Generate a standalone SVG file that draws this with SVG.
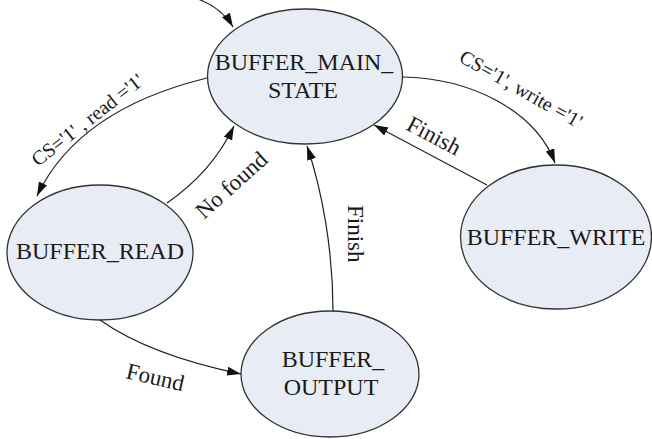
<svg xmlns="http://www.w3.org/2000/svg" width="652" height="439" viewBox="0 0 652 439">
<style>
.node{fill:#e8ecf5;stroke:#333;stroke-width:1.3}
.nt{font-family:"Liberation Serif","Times New Roman",serif;font-size:24px;fill:#1a1a1a;text-anchor:middle}
.edge{fill:none;stroke:#222;stroke-width:1.2}
.lbl{font-family:"Liberation Serif","Times New Roman",serif;font-size:23px;fill:#1a1a1a}
.cs{font-size:20px}
</style>
<defs>
<marker id="arr" markerUnits="userSpaceOnUse" markerWidth="15" markerHeight="10" refX="14" refY="4.5" orient="auto">
<path d="M0,0 L14,4.5 L0,9 z" fill="#111"/>
</marker>
</defs>
<rect width="652" height="439" fill="#fff"/>
<g id="node-main">
<ellipse class="node" cx="305" cy="76.5" rx="97.5" ry="67.5"/>
<text class="nt" x="304" y="70">BUFFER_MAIN_</text>
<text class="nt" x="303" y="98">STATE</text>
</g>
<g id="node-read">
<ellipse class="node" cx="100" cy="252.5" rx="93" ry="67.5"/>
<text class="nt" x="100" y="259">BUFFER_READ</text>
</g>
<g id="node-output">
<ellipse class="node" cx="330" cy="374" rx="89" ry="63"/>
<text class="nt" x="333" y="367">BUFFER_</text>
<text class="nt" x="331" y="395">OUTPUT</text>
</g>
<g id="node-write">
<ellipse class="node" cx="556" cy="237" rx="95.5" ry="72"/>
<text class="nt" x="556" y="245">BUFFER_WRITE</text>
</g>
<g id="connectors">
<path class="edge" marker-end="url(#arr)" d="M198,-1 Q222,8 233,27"/>
<path class="edge" marker-end="url(#arr)" d="M207,78 Q78,109.5 37,196"/>
<path class="edge" marker-end="url(#arr)" d="M167,203 Q212,172 234,126"/>
<path class="edge" marker-end="url(#arr)" d="M100,320 Q149.5,355 241,374"/>
<path class="edge" marker-end="url(#arr)" d="M333,311 C333,250 322,190 307,146"/>
<path class="edge" marker-end="url(#arr)" d="M402,77 C470,78 535,110 555,163"/>
<path class="edge" marker-end="url(#arr)" d="M487,185 L374,125"/>
<text class="lbl cs" transform="translate(38,167) rotate(-38)">CS='1' , read ='1'</text>
<text class="lbl cs" transform="translate(458,61) rotate(29.5)">CS='1', write ='1'</text>
<text class="lbl" transform="translate(204,220) rotate(-42)">No found</text>
<text class="lbl" transform="translate(125,378) rotate(13)">Found</text>
<text class="lbl" transform="translate(405,129) rotate(28)">Finish</text>
<text class="lbl" transform="translate(348,205) rotate(90)">Finish</text>
</g>
</svg>
